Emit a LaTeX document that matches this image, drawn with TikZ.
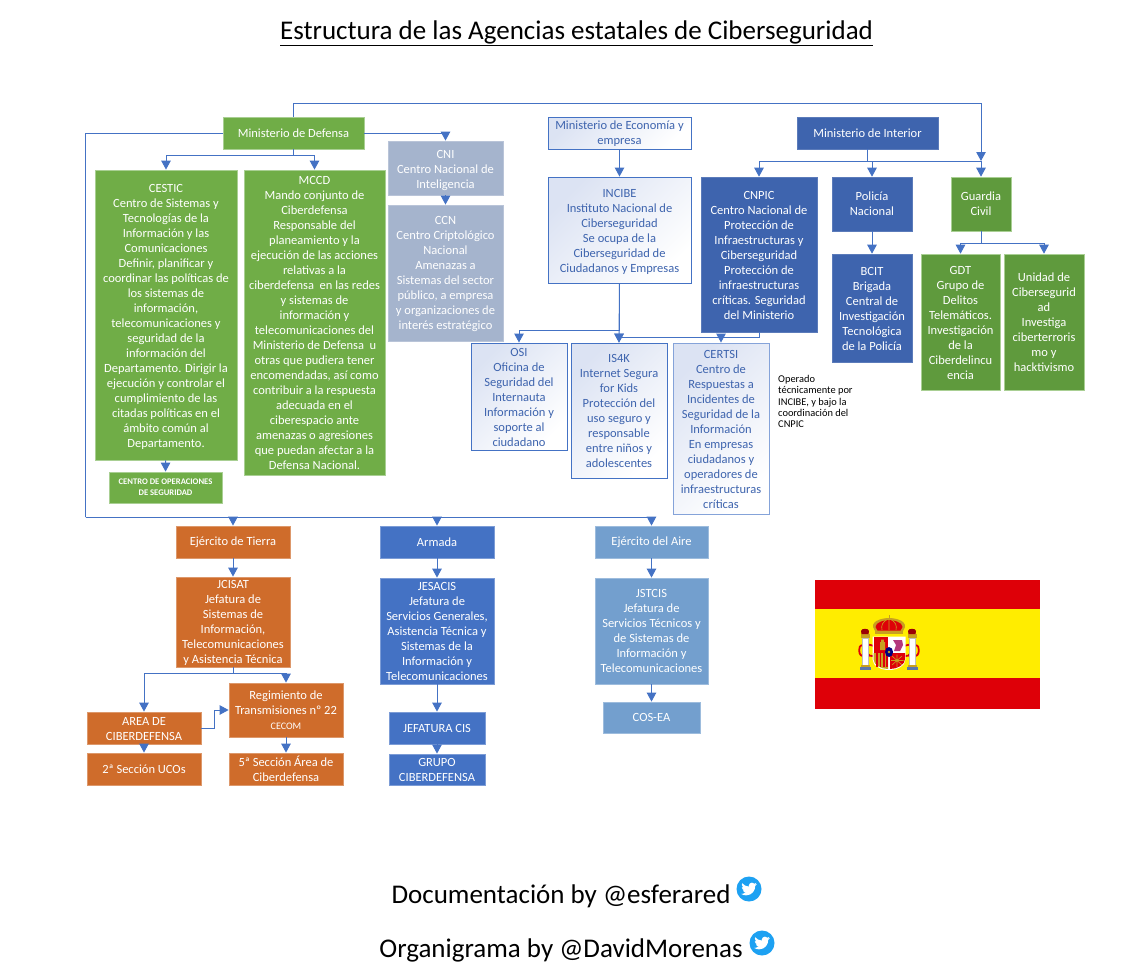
\documentclass[tikz,border=0pt]{standalone}
\usepackage{fontspec}
\setmainfont{Carlito}
\usetikzlibrary{arrows.meta}
\definecolor{linkc}{HTML}{4472C4}
\definecolor{gA}{HTML}{70AD47}
\definecolor{gB}{HTML}{5F9A3D}
\definecolor{gBorder}{HTML}{A9CF93}
\definecolor{greyb}{HTML}{A5B4CD}
\definecolor{greybB}{HTML}{B9C4D8}
\definecolor{blueD}{HTML}{3E64AE}
\definecolor{blueM}{HTML}{4472C4}
\definecolor{blueL}{HTML}{739FCE}
\definecolor{orng}{HTML}{CF6C2B}
\definecolor{lightT}{HTML}{3E64AE}
\definecolor{lightF}{HTML}{DCE3F3}
\definecolor{fred}{HTML}{DE0008}
\definecolor{fyel}{HTML}{FFED00}
\definecolor{fgold}{HTML}{C8A020}
\definecolor{twit}{HTML}{1DA1F2}
\tikzset{
  body/.style={align=center,inner sep=0pt,font=\fontsize{12.5}{15}\selectfont,text=white},
  boxG/.style={body,fill=gA,draw=gBorder,line width=.8pt},
  boxGd/.style={body,fill=gB,draw=gBorder,line width=.6pt},
  boxGrey/.style={body,fill=greyb,draw=greybB,line width=.8pt},
  boxD/.style={body,fill=blueD,draw=blueD!85!white,line width=.6pt},
  boxM/.style={body,fill=blueM,draw=blueM!70!white,line width=.8pt},
  boxL/.style={body,fill=blueL,draw=blueL!70!white,line width=.8pt},
  boxO/.style={body,fill=orng,draw=orng!70!white,line width=.8pt},
  boxW/.style={body,text=lightT,draw=linkc,line width=.9pt,top color=lightF,bottom color=white,shading angle=45},
  boxWl/.style={boxW,draw=linkc!65!white},
  wire/.style={draw=linkc,line width=1pt},
  arr/.style={wire,-{Triangle[length=9pt,width=9.5pt]}},
  bigt/.style={font=\fontsize{27}{30}\selectfont,text=black,inner sep=0pt},
}
\newcommand{\bxn}[7]{\node[#2,minimum width={(#5-#3)*1pt},minimum height={(#6-#4)*1pt}] (#1) at ({(#3+#5)/2},{(#4+#6)/2}) {#7};}
\newcommand{\bx}[7]{\bxn{#1}{#2}{#3}{#4}{#5}{#6}{\rule{0pt}{10pt}#7}}
\newcommand{\twicon}[2]{%
  \fill[twit] (#1,#2) circle[radius=12.5];
  \begin{scope}[shift={(#1,#2)},xshift=-7.8pt,yshift=7.8pt,x=.65pt,y=-.65pt]
  \fill[white] (23.95,4.57) -- (21.13,5.34) -- (23.29,2.62) -- (20.16,3.8)
   .. controls (19.2,2.8) and (17.9,2.2) .. (16.5,2.2)
   .. controls (13.8,2.2) and (11.6,4.4) .. (11.6,7.1)
   .. controls (11.6,7.5) and (11.7,7.9) .. (11.78,8.29)
   .. controls (7.69,8.09) and (4.07,6.13) .. (1.64,3.16)
   .. controls (1.2,3.9) and (.97,4.75) .. (.97,5.64)
   .. controls (.97,7.35) and (1.84,8.85) .. (3.16,9.73)
   .. controls (2.35,9.7) and (1.6,9.5) .. (.93,9.11)
   -- (.93,9.17)
   .. controls (.93,11.55) and (2.63,13.55) .. (4.88,14)
   .. controls (4.15,14.2) and (3.4,14.2) .. (2.66,14.08)
   .. controls (3.3,16.05) and (5.1,17.45) .. (7.27,17.5)
   .. controls (5.6,18.8) and (3.5,19.6) .. (1.17,19.6)
   .. controls (.78,19.6) and (.39,19.58) .. (0,19.54)
   .. controls (2.2,20.95) and (4.8,21.75) .. (7.56,21.75)
   .. controls (16.6,21.75) and (21.55,14.25) .. (21.55,7.77)
   .. controls (21.55,7.56) and (21.55,7.35) .. (21.54,7.14)
   .. controls (22.5,6.45) and (23.33,5.55) .. (24,4.59) -- cycle;
  \end{scope}}
\begin{document}
\begin{tikzpicture}[x=1pt,y=-1pt]
\useasboundingbox[fill=white] (0,0) rectangle (1133,964);
% title
\node[bigt,anchor=base] (title) at (576.5,39) {\underline{Estructura de las Agencias estatales de Ciberseguridad}};
% defensa
\bxn{mdef}{boxG}{223}{117}{364}{149}{Ministerio de Defensa}
\bxn{cestic}{boxG}{95}{170}{237}{460}{\rule{0pt}{12pt}CESTIC\\Centro de Sistemas y\\Tecnologías de la\\Información y las\\Comunicaciones\\Definir, planificar y\\coordinar las políticas de\\los sistemas de\\información,\\telecomunicaciones y\\seguridad de la\\información del\\Departamento. Dirigir la\\ejecución y controlar el\\cumplimiento de las\\citadas políticas en el\\ámbito común al\\Departamento.}
\bxn{mccd}{boxG}{244}{170}{385}{475}{MCCD\\Mando conjunto de\\Ciberdefensa\\Responsable del\\planeamiento y la\\ejecución de las acciones\\relativas a la\\ciberdefensa\ \ en las redes\\y sistemas de\\información y\\telecomunicaciones del\\Ministerio de Defensa\ \ u\\otras que pudiera tener\\encomendadas, así como\\contribuir a la respuesta\\adecuada en el\\ciberespacio ante\\amenazas o agresiones\\que puedan afectar a la\\Defensa Nacional.}
\bxn{cos}{boxG,font=\fontsize{8.6}{10.7}\selectfont\bfseries}{109}{472}{222}{503}{CENTRO DE OPERACIONES\\DE SEGURIDAD}
\bxn{cni}{boxGrey}{388}{141}{503}{195}{\rule{0pt}{14pt}CNI\\Centro Nacional de\\Inteligencia}
\bx{ccn}{boxGrey}{388}{205}{503}{341}{CCN\\Centro Criptológico\\Nacional\\Amenazas a\\Sistemas del sector\\público, a empresa\\y organizaciones de\\interés estratégico}
% economia
\bx{meco}{boxW}{548}{117}{691}{149}{Ministerio de Economía y\\empresa}
\bxn{incibe}{boxW}{548}{177}{691}{283}{\rule{0pt}{12pt}INCIBE\\Instituto Nacional de\\Ciberseguridad\\Se ocupa de la\\Ciberseguridad de\\Ciudadanos y Empresas}
\bx{osi}{boxW}{471}{343}{567}{450}{OSI\\Oficina de\\Seguridad del\\Internauta\\Información y\\soporte al\\ciudadano}
\bxn{isk}{boxW}{571}{343}{667}{478}{IS4K\\Internet Segura\\for Kids\\Protección del\\uso seguro y\\responsable\\entre niños y\\adolescentes}
\bx{certsi}{boxWl}{673}{343}{769}{514}{CERTSI\\Centro de\\Respuestas a\\Incidentes de\\Seguridad de la\\Información\\En empresas\\ciudadanos y\\operadores de\\infraestructuras\\críticas}
\node[anchor=north west,align=left,inner sep=0pt,text=black,font=\fontsize{10.4}{11.3}\selectfont] (nota) at (778,375) {Operado\\técnicamente por\\INCIBE, y bajo la\\coordinación del\\CNPIC};
% interior
\bxn{mint}{boxD}{797}{117}{938}{149}{Ministerio de Interior}
\bx{cnpic}{boxD}{701}{177}{817}{332}{CNPIC\\Centro Nacional de\\Protección de\\Infraestructuras y\\Ciberseguridad\\Protección de\\infraestructuras\\críticas. Seguridad\\del Ministerio}
\bxn{pol}{boxD}{832}{177}{912}{231}{Policía\\Nacional}
\bx{bcit}{boxD}{832}{254}{912}{362}{BCIT\\Brigada\\Central de\\Investigación\\Tecnológica\\de la Policía}
\bxn{gc}{boxGd}{951}{177}{1011}{231}{Guardia\\Civil}
\bx{gdt}{boxGd}{921}{254}{1000}{390}{GDT\\Grupo de\\Delitos\\Telemáticos.\\Investigación\\de la\\Ciberdelincu\\encia}
\bx{uni}{boxGd}{1004}{254}{1084}{390}{Unidad de\\Cibersegurid\\ad\\Investiga\\ciberterroris\\mo y\\hacktivismo}
% ejercito de tierra
\bxn{tierra}{boxO}{176}{526}{290}{558}{Ejército de Tierra}
\bx{jcisat}{boxO}{176}{577}{290}{667}{JCISAT\\Jefatura de\\Sistemas de\\Información,\\Telecomunicaciones\\y Asistencia Técnica}
\bx{regi}{boxO}{229}{683}{343}{737}{Regimiento de\\Transmisiones nº 22\\{\fontsize{10}{15}\selectfont CECOM}}
\bx{area}{boxO}{87}{712}{201}{744}{AREA DE\\CIBERDEFENSA}
\bxn{ucos}{boxO}{87}{753}{201}{785}{2ª Sección UCOs}
\bx{quinta}{boxO}{229}{753}{343}{785}{5ª Sección Área de\\Ciberdefensa}
% armada
\bxn{armada}{boxM}{380}{526}{494}{558}{Armada}
\bxn{jesacis}{boxM}{380}{578}{494}{684}{JESACIS\\Jefatura de\\Servicios Generales,\\Asistencia Técnica y\\Sistemas de la\\Información y\\Telecomunicaciones}
\bxn{jcis}{boxM}{389}{712}{485}{744}{JEFATURA CIS}
\bx{grupo}{boxM}{389}{754}{485}{785}{GRUPO\\CIBERDEFENSA}
% aire
\bxn{aire}{boxL}{595}{526}{708}{558}{Ejército del Aire}
\bxn{jstcis}{boxL}{595}{578}{708}{684}{JSTCIS\\Jefatura de\\Servicios Técnicos y\\de Sistemas de\\Información y\\Telecomunicaciones}
\bxn{cosea}{boxL}{603}{702}{700}{733}{COS-EA}
% connectors
\coordinate (topr) at (gc.north |- 0,103);
\coordinate (gcj) at (gc.north |- 0,161);
\draw[arr] (mdef.north) |- (topr) -- (gcj);
\coordinate (busl) at (85.6,517);
\draw[wire] (mdef.west) -| (busl);
\draw[arr] (busl) -| (tierra.north);
\draw[arr] (busl) -| (armada.north);
\draw[arr] (busl) -| (aire.north);
\draw[arr] (mdef.east) -| (cni.north);
\coordinate (defj) at (mdef.south |- 0,155);
\draw[arr] (mdef.south) -- (defj) -| (cestic.north);
\draw[arr] (mdef.south) -- (defj) -| (mccd.north);
\draw[arr] (cni) -- (ccn);
\draw[arr] (cestic) -- (cos);
\draw[arr] (meco) -- (incibe);
\coordinate (incj) at (incibe.south |- 0,330);
\draw[arr] (incibe.south) -- (incj) -| (osi.north);
\draw[arr] (incibe.south) -- (isk.north);
\coordinate (cnj) at (cnpic.south |- 0,337);
\draw[arr] (cnpic.south) -- (cnj) -| (isk.north);
\draw[arr] (cnpic.south) -- (cnj) -| (certsi.north);
\coordinate (intj) at (mint.south |- 0,161);
\draw[arr] (mint.south) -- (intj) -| (cnpic.north);
\draw[arr] (mint.south) -- (intj) -| (pol.north);
\draw[arr] (mint.south) -- (intj) -| (gc.north);
\draw[arr] (pol) -- (bcit);
\coordinate (gcb) at (gc.south |- 0,243);
\draw[arr] (gc.south) -- (gcb) -| (gdt.north);
\draw[arr] (gc.south) -- (gcb) -| (uni.north);
\draw[arr] (tierra) -- (jcisat);
\coordinate (jcj) at (jcisat.south |- 0,673);
\draw[arr] (jcisat.south) -- (jcj) -| (area.north);
\draw[arr] (jcisat.south) -- (jcj) -| (regi.north);
\coordinate (areaj) at ([xshift=13pt]area.east);
\draw[arr] (area.east) -- (areaj) |- (regi.west);
\draw[arr] (area) -- (ucos);
\draw[arr] (regi) -- (quinta);
\draw[arr] (armada) -- (jesacis);
\draw[arr] (jesacis) -- (jcis);
\draw[arr] (jcis) -- (grupo);
\draw[arr] (aire) -- (jstcis);
\draw[arr] (jstcis) -- (cosea);
% flag
\fill[fred] (815,580) rectangle (1040,709);
\fill[fyel] (815,609) rectangle (1040,678);
% ribbons behind
\draw[fred,line width=1.8pt] (860,646) .. controls (866,643) and (870,645) .. (874,646);
\draw[fred,line width=1.8pt] (860,646) .. controls (858,652) and (860,655) .. (862,656);
\draw[fred,line width=1.8pt] (866,651) .. controls (869,656) and (871,657) .. (874,656);
\draw[fred,line width=1.8pt] (918,646) .. controls (912,643) and (908,645) .. (904,646);
\draw[fred,line width=1.8pt] (918,646) .. controls (920,652) and (918,655) .. (916,656);
\draw[fred,line width=1.8pt] (912,651) .. controls (909,656) and (907,657) .. (904,656);
% pillars
\foreach \px in {865,912}{
  \fill[white,draw=gray!50,line width=.3pt] (\px-3,638) rectangle (\px+3,665);
  \fill[fgold] (\px-4.5,634) rectangle (\px+4.5,638);
  \fill[fred!70!black] (\px-4,631) .. controls (\px-4,628) and (\px+4,628) .. (\px+4,631) -- (\px+3.5,634) -- (\px-3.5,634) -- cycle;
  \fill[fgold] (\px-4.5,665) rectangle (\px+4.5,667);
  \fill[linkc!60!gray] (\px-5.5,667) rectangle (\px+5.5,670);
}
% crown
\fill[fgold] (889,615) rectangle (890,620);
\fill[fgold] (873,627) .. controls (872,620) and (884,618) .. (889,618) .. controls (894,618) and (906,620) .. (905,627) -- (902,633) -- (876,633) -- cycle;
\fill[fred] (875.5,627) .. controls (875.5,622) and (885,620) .. (889,620) .. controls (893,620) and (902.5,622) .. (902.5,627) -- (900.5,630.5) -- (877.5,630.5) -- cycle;
\draw[fgold,line width=.6pt] (889,619) -- (889,630) (889,619) .. controls (882,621) and (881,626) .. (882,630) (889,619) .. controls (896,621) and (897,626) .. (896,630);
\fill[fgold] (875,630.5) rectangle (903,634);
% shield
\fill[white] (872.5,636.5) rectangle (905.5,655) (872.5,655) -- (905.5,655) -- (905.5,659) .. controls (905.5,666) and (897,670) .. (889,670) .. controls (881,670) and (872.5,666) .. (872.5,659) -- cycle;
\fill[fred] (873.5,637) rectangle (888,653);
\fill[fgold] (880,642) -- (880,650) -- (885,650) -- (885,642) -- (883.8,642) -- (883.8,639.5) -- (881.2,639.5) -- (881.2,642) -- cycle;
\fill[magenta!70!black] (893,640) -- (902,640) -- (903,645) -- (900,651) -- (894,651) -- (896,645) -- cycle;
\fill[fgold] (873.5,653) -- (888,653) -- (888,669) .. controls (881,669) and (873.5,665) .. (873.5,659) -- cycle;
\foreach \sx in {876,879.5,883,886}{\fill[fred] (\sx,653) rectangle (\sx+1.6,667);}
\fill[fred] (890,653) -- (905,653) -- (905,659) .. controls (905,665) and (897,669) .. (890,669) -- cycle;
\draw[fgold,line width=.6pt] (892,656) -- (902,665) (902,656) -- (892,665) (897,654.5) -- (897,667) (891,660.5) -- (903.5,660.5);
\fill[blue!50!black] (889,652) ellipse[x radius=4,y radius=5];
\fill[fgold] (889,652) circle[radius=1.4];
% footer
\node[bigt,anchor=base] (doc) at (561,903) {Documentación by @esferared};
\node[bigt,anchor=base] (org) at (561,957) {Organigrama by @DavidMorenas};
\twicon{749}{889}
\twicon{762}{943}
\end{tikzpicture}
\end{document}
